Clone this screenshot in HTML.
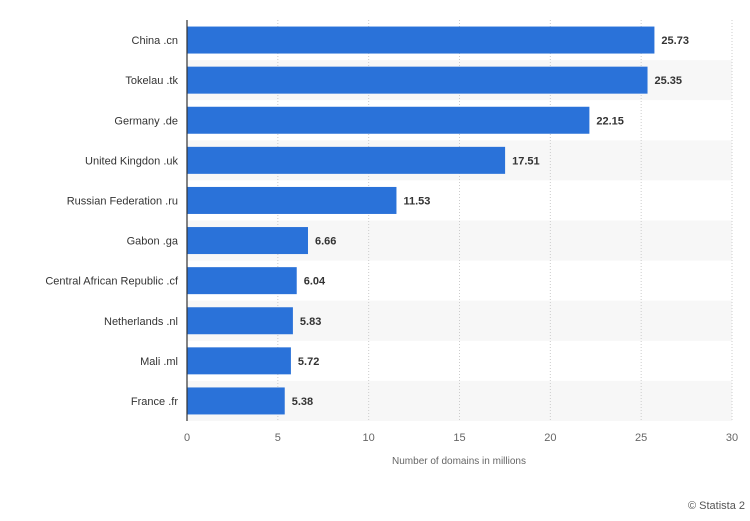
<!DOCTYPE html>
<html><head><meta charset="utf-8"><style>
body{margin:0;background:#fff;font-family:"Liberation Sans",sans-serif;}
svg text{font-family:"Liberation Sans",sans-serif;}
</style></head><body>
<svg width="750" height="516">
<g id="bands"></g><g id="grid"></g><g id="bars"></g><g id="labels"></g>
<line x1="187" y1="20" x2="187" y2="421" stroke="#333" stroke-width="1.2"/>
<text x="459" y="464" font-size="10" fill="#666" text-anchor="middle">Number of domains in millions</text>
<text x="688" y="509" font-size="11" fill="#555">© Statista 2</text>
</svg>
<script>
const categories=["China .cn","Tokelau .tk","Germany .de","United Kingdon .uk","Russian Federation .ru","Gabon .ga","Central African Republic .cf","Netherlands .nl","Mali .ml","France .fr"];
const values=[25.73,25.35,22.15,17.51,11.53,6.66,6.04,5.83,5.72,5.38];
const valueLabels=["25.73","25.35","22.15","17.51","11.53","6.66","6.04","5.83","5.72","5.38"];
const ticks=[0,5,10,15,20,25,30];
const NS="http://www.w3.org/2000/svg";
const x0=187,x1=732,xMax=30,plotTop=20,rowH=40.1,barH=27;
function xs(v){return x0+(v/xMax)*(x1-x0);}
function ys(i){return plotTop+i*rowH;}
function mk(t,a,p){const e=document.createElementNS(NS,t);for(const k in a)e.setAttribute(k,a[k]);document.getElementById(p).appendChild(e);return e;}
categories.forEach((c,i)=>{
  if(i%2===1){const b=mk('rect',{x:x0,y:ys(i),width:x1-x0,height:rowH,fill:'#f7f7f7'},'bands');
    
    }
});
ticks.forEach(t=>{
  if(t>0){const g=mk('line',{x1:xs(t),x2:xs(t),y1:plotTop,y2:ys(categories.length),stroke:'#ccc','stroke-dasharray':'1,2'},'grid');
    
    }
  const l=mk('text',{x:xs(t),y:441,'font-size':11,fill:'#666','text-anchor':'middle'},'labels');
  l.textContent=t;
  
  
});
categories.forEach((c,i)=>{
  const cy=ys(i)+rowH/2;
  const r=mk('rect',{x:x0,y:cy-barH/2,width:xs(values[i])-x0,height:barH,fill:'#2a72d9'},'bars');
  
  
  const cl=mk('text',{x:178,y:cy+4,'font-size':11,fill:'#333','text-anchor':'end'},'labels');
  cl.textContent=c;
  
  
  const vl=mk('text',{x:xs(values[i])+7,y:cy+4,'font-size':11,'font-weight':'bold',fill:'#333'},'labels');
  vl.textContent=valueLabels[i];
  
  
});
</script>
</body></html>
